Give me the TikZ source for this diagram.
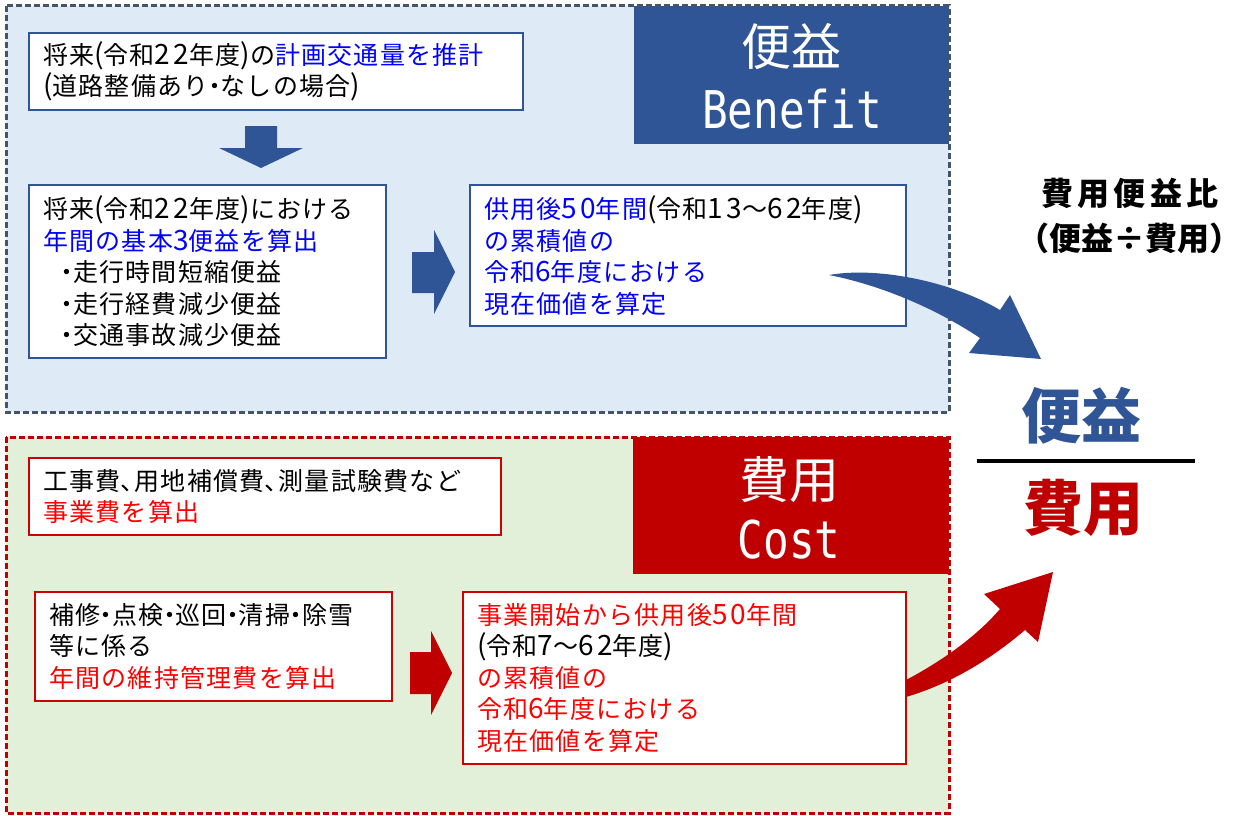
\documentclass[tikz,border=0pt]{standalone}
\usepackage{fontspec}
\usepackage{graphicx}
\setmainfont{Noto Sans CJK JP}
\newfontfamily\monof{DejaVu Sans Mono}
\definecolor{pblue}{HTML}{DEEBF7}
\definecolor{pgreen}{HTML}{E2F0D9}
\definecolor{dblue}{HTML}{2F5597}
\definecolor{dred}{HTML}{C00000}
\definecolor{bred}{HTML}{D00000}
\definecolor{bordgray}{HTML}{44546A}
\definecolor{tblue}{HTML}{0000FF}
\definecolor{tred}{HTML}{FF0000}
\newcommand\nkg{\hbox to 12pt{\hss ・\hss}}
\newcommand\tten{\hbox to 14pt{、\hss}}
\newcommand\dg[1]{{\fontsize{28}{31.5}\selectfont\addfontfeature{LetterSpace=12}#1}}
\tikzset{
  txtbox/.style={draw, fill=white, line width=2pt, align=left, inner xsep=14pt, inner ysep=0pt,
    font=\fontsize{25}{31.5}\selectfont\addfontfeature{LetterSpace=5}},
  bbox/.style={txtbox, draw=dblue},
  cbox/.style={txtbox, draw=bred},
  panelborder/.style={line width=3pt, dash pattern=on 6pt off 3pt},
  titletxt/.style={text=white, inner sep=0pt, font=\fontsize{50}{50}\selectfont},
  bigb/.style={inner sep=0pt, font=\bfseries\fontsize{60}{60}\selectfont},
  ratiotxt/.style={inner sep=0pt, font=\bfseries\fontsize{32}{32}\selectfont},
}
\begin{document}
\begin{tikzpicture}[x=1pt,y=-1pt]
\useasboundingbox (0,0) rectangle (1247,816);
% panels
\fill[pblue] (6,6) rectangle (949,412);
\fill[pgreen] (6,437) rectangle (949,813);
\fill[dblue] (634,6) rectangle (949,144);
\fill[dred] (633,437) rectangle (949,574);
\draw[panelborder, draw=bordgray] (6,6) rectangle (949,412);
\draw[panelborder, draw=dred] (6,437) rectangle (949,813);
% titles
\node[titletxt] (benJ) at (791,47) {便益};
\node[titletxt] (benE) at (792,109) {\scalebox{0.82}[1]{\monof\fontsize{52}{52}\selectfont Benefit}};
\node[titletxt] (cosJ) at (789,480) {費用};
\node[titletxt] (cosE) at (789,540) {\scalebox{0.82}[1]{\monof\fontsize{52}{52}\selectfont Cost}};
% benefit boxes
\node[bbox, text width=466pt, minimum height=77pt] (b1) at (276,71.5)
  {将来\dg{(}令和\dg{22}年度\dg{)}の{\color{tblue}計画交通量を推計}\\\dg{(}道路整備あり\nkg なしの場合\dg{)}};
\node[bbox, text width=329pt, minimum height=173pt] (b2) at (207.5,271.5)
  {将来\dg{(}令和\dg{22}年度\dg{)}における\\
   {\color{tblue}年間の基本\dg{3}便益を算出}\\
   \hspace*{18pt}\nkg 走行時間短縮便益\\
   \hspace*{18pt}\nkg 走行経費減少便益\\
   \hspace*{18pt}\nkg 交通事故減少便益};
\node[bbox, text width=408pt, minimum height=141pt] (b3) at (688,255.5)
  {{\color{tblue}供用後\dg{50}年間}\dg{(}令和\dg{13}～\dg{62}年度\dg{)}\\
   {\color{tblue}の累積値の}\\
   {\color{tblue}令和\dg{6}年度における}\\
   {\color{tblue}現在価値を算定}};
% cost boxes
\node[cbox, text width=444pt, minimum height=77pt] (c1) at (265,496.5)
  {工事費\tten 用地補償費\tten 測量試験費など\\{\color{tred}事業費を算出}};
\node[cbox, text width=329pt, minimum height=109pt] (c2) at (213.5,646.5)
  {補修\nkg 点検\nkg 巡回\nkg 清掃\nkg 除雪\\等に係る\\{\color{tred}年間の維持管理費を算出}};
\node[cbox, text width=415pt, minimum height=172pt] (c3) at (684.5,678)
  {{\color{tred}事業開始から供用後\dg{50}年間}\\
   \dg{(}令和\dg{7}～\dg{62}年度\dg{)}\\
   {\color{tred}の累積値の}\\
   {\color{tred}令和\dg{6}年度における}\\
   {\color{tred}現在価値を算定}};
% block arrows
\fill[dblue] (245,126) -- (277,126) -- (277,148) -- (303,148) -- (261,168) -- (219,148) -- (245,148) -- cycle;
\fill[dblue] (412,252) -- (434,252) -- (434,230) -- (455,272) -- (434,314) -- (434,293) -- (412,293) -- cycle;
\fill[dred] (410,652) -- (431,652) -- (431,631) -- (452,673) -- (431,715) -- (431,694) -- (410,694) -- cycle;
% curved arrows
\fill[dblue] (829,275) .. controls (880,266) and (955,283) .. (1000,310) -- (1010,295) -- (1041,359)
  -- (969,353) -- (980,338) .. controls (935,308) and (880,285) .. (829,275) -- cycle;
\fill[dred] (906,680) .. controls (940,662) and (975,638) .. (1000,609) -- (984,594) -- (1053,572)
  -- (1038,642) -- (1025,630) .. controls (990,660) and (950,684) .. (906,697) -- cycle;
% right side
\node[ratiotxt] (r1) at (1130,193) {\addfontfeature{LetterSpace=14}費用便益比};
\node[ratiotxt] (r2) at (1129,238) {（便益÷費用）};
\node[bigb, text=dblue] (num) at (1081,416) {便益};
\node[bigb, text=dred] (den) at (1083,508) {費用};
\coordinate (fl) at (977,461);
\coordinate (fr) at (1195,461);
\draw[line width=4pt] (fl) -- (fr);
\end{tikzpicture}
\end{document}
